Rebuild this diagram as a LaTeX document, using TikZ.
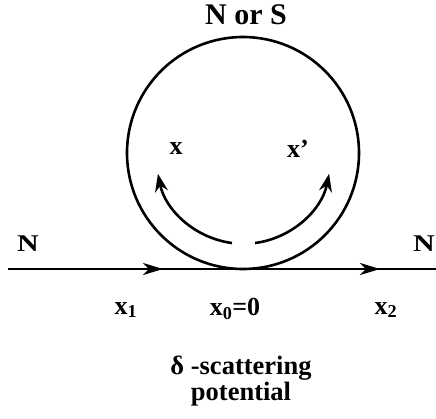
\documentclass[tikz,border=0pt]{standalone}
\usepackage{fontspec}
\setmainfont{Liberation Serif}
\usetikzlibrary{arrows.meta}
\tikzset{
  wire/.style={line width=2.6pt},
  lbl/.style={inner sep=0pt, font=\bfseries\fontsize{26}{30}\selectfont},
  nlbl/.style={inner sep=0pt, xscale=1.25, font=\bfseries\fontsize{24}{28}\selectfont},
  big/.style={inner sep=0pt, font=\bfseries\fontsize{30}{32}\selectfont},
  note/.style={inner sep=0pt, align=center, font=\bfseries\fontsize{26.5}{21}\selectfont},
  tip/.style={-{Stealth[length=20pt,width=12pt,inset=6pt]}},
  ctip/.style={-{Stealth[length=18pt,width=13pt,inset=6pt]}},
}
\begin{document}
\begin{tikzpicture}[x=1pt,y=-1pt]
\useasboundingbox (0,0) rectangle (436,418);
% coordinates
\coordinate (L) at (8,269);
\coordinate (R) at (436,269);
\coordinate (A1) at (163,269);
\coordinate (A2) at (380,269);
\coordinate (C) at (243,153);
\coordinate (IC) at (243.5,156.5);
% main circle
\draw[wire] (C) circle[radius=116];
% line
\draw[wire] (L) -- (R);
\draw[wire,tip] ([xshift=-20pt]A1) -- (A1);
\draw[wire,tip] ([xshift=-20pt]A2) -- (A2);
% inner arcs
\draw[wire,ctip] ([shift={(97.6:87.3)}]IC) arc[start angle=97.6, end angle=168.6, radius=87.3];
\draw[wire,ctip] ([shift={(82.4:87.3)}]IC) arc[start angle=82.4, end angle=11.4, radius=87.3];
% labels
\node[big] (nors) at (246,15) {N or S};
\node[lbl] (x) at (176,149) {x};
\node[lbl] (xp) at (298,149) {x’};
\node[nlbl] (nl) at (28,244) {N};
\node[nlbl] (nr) at (424,244) {N};
\node[lbl] (x1) at (126,310) {x\textsubscript{1}};
\node[lbl] (x0) at (235,309) {x\textsubscript{0}=0};
\node[lbl] (x2) at (386,310) {x\textsubscript{2}};
\node[note] (delta) at (241,381) {δ -scattering\\potential};
\end{tikzpicture}
\end{document}
